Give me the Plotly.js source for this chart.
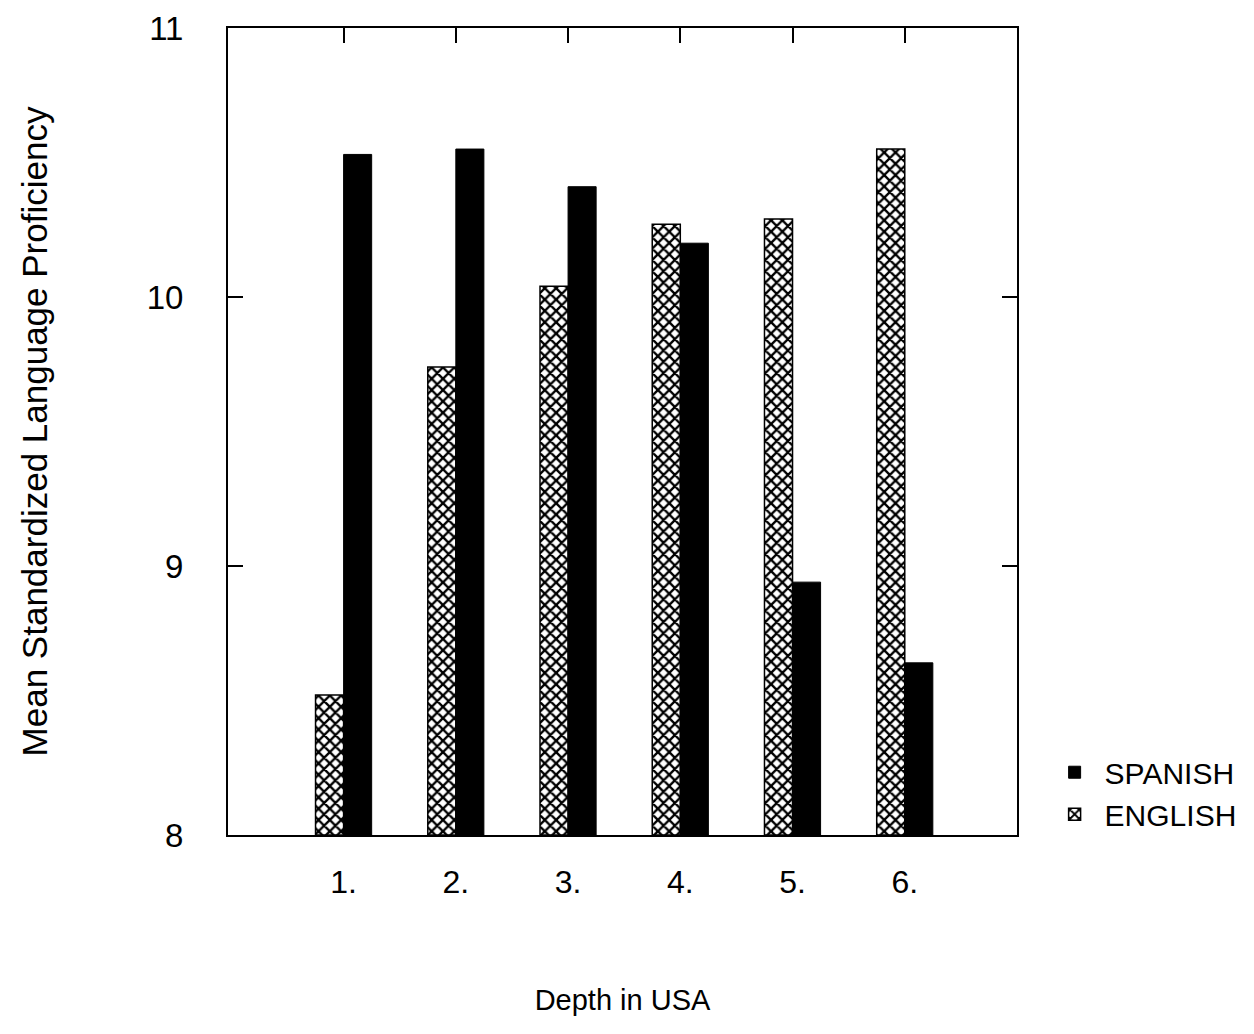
<!DOCTYPE html>
<html><head><meta charset="utf-8">
<script src="https://cdn.plot.ly/plotly-3.0.1.min.js"></script>
<style>html,body{margin:0;padding:0;background:#fff}#chart{width:1254px;height:1034px}</style>
</head><body><div id="chart"></div>
<script>
var categories = [1, 2, 3, 4, 5, 6];
var tickLabels = ["1.", "2.", "3.", "4.", "5.", "6."];
var englishValues = [8.52, 9.74, 10.04, 10.27, 10.29, 10.55];
var spanishValues = [10.53, 10.55, 10.41, 10.20, 8.94, 8.64];
var baseValue = 8;

var FONT = "Liberation Sans, Arial, sans-serif";

var traces = [
  {type: "bar", name: "ENGLISH", x: categories, y: englishValues.map(function(v){return v - baseValue;}), base: baseValue,
   width: 0.25, offset: -0.25, xaxis: "x", yaxis: "y",
   marker: {color: "#ffffff", line: {color: "#000", width: 1.5},
            pattern: {shape: "x", fgcolor: "#000", bgcolor: "#fff", size: 8, solidity: 0.5}}},
  {type: "bar", name: "SPANISH", x: categories, y: spanishValues.map(function(v){return v - baseValue;}), base: baseValue,
   width: 0.25, offset: 0, xaxis: "x2", yaxis: "y",
   marker: {color: "#000", line: {color: "#000", width: 1}}}
];

var layout = {
  width: 1254, height: 1034,
  paper_bgcolor: "#fff", plot_bgcolor: "#fff",
  margin: {l: 228, r: 237, t: 28, b: 199},
  barmode: "overlay",
  showlegend: true,
  legend: {x: 1.035, y: 0.11, xanchor: "left", yanchor: "top", traceorder: "reversed",
           font: {family: FONT, size: 30, color: "#000"}, itemwidth: 50, tracegroupgap: 6},
  font: {family: FONT, color: "#000"},
  xaxis: {range: [-0.03, 7.0], tickmode: "array", tickvals: categories, ticktext: tickLabels,
          ticks: "", showgrid: false, zeroline: false, showline: true, linecolor: "#000", linewidth: 2,
          mirror: true, tickfont: {family: FONT, size: 32, color: "#000"}, ticklabelstandoff: 18,
          title: {text: "Depth in USA", font: {family: FONT, size: 29, color: "#000"}, standoff: 90}},
  xaxis2: {overlaying: "x", side: "top", range: [-0.03, 7.0], tickmode: "array", tickvals: categories,
           ticks: "inside", ticklen: 15, tickwidth: 2, tickcolor: "#000", showticklabels: false,
           showgrid: false, zeroline: false, showline: false},
  yaxis: {range: [8, 11], tickmode: "array", tickvals: [8, 9, 10, 11], ticktext: ["8", "9", "10", "11"],
          ticks: "inside", ticklen: 15, tickwidth: 2, tickcolor: "#000", mirror: "ticks",
          showgrid: false, zeroline: false, showline: true, linecolor: "#000", linewidth: 2,
          tickfont: {family: FONT, size: 33, color: "#000"}, ticklabelstandoff: 36,
          title: {text: "Mean Standardized Language Proficiency", font: {family: FONT, size: 35, color: "#000"}, standoff: 88}}
};

Plotly.newPlot("chart", traces, layout, {displayModeBar: false, staticPlot: true});
</script>
</body></html>
